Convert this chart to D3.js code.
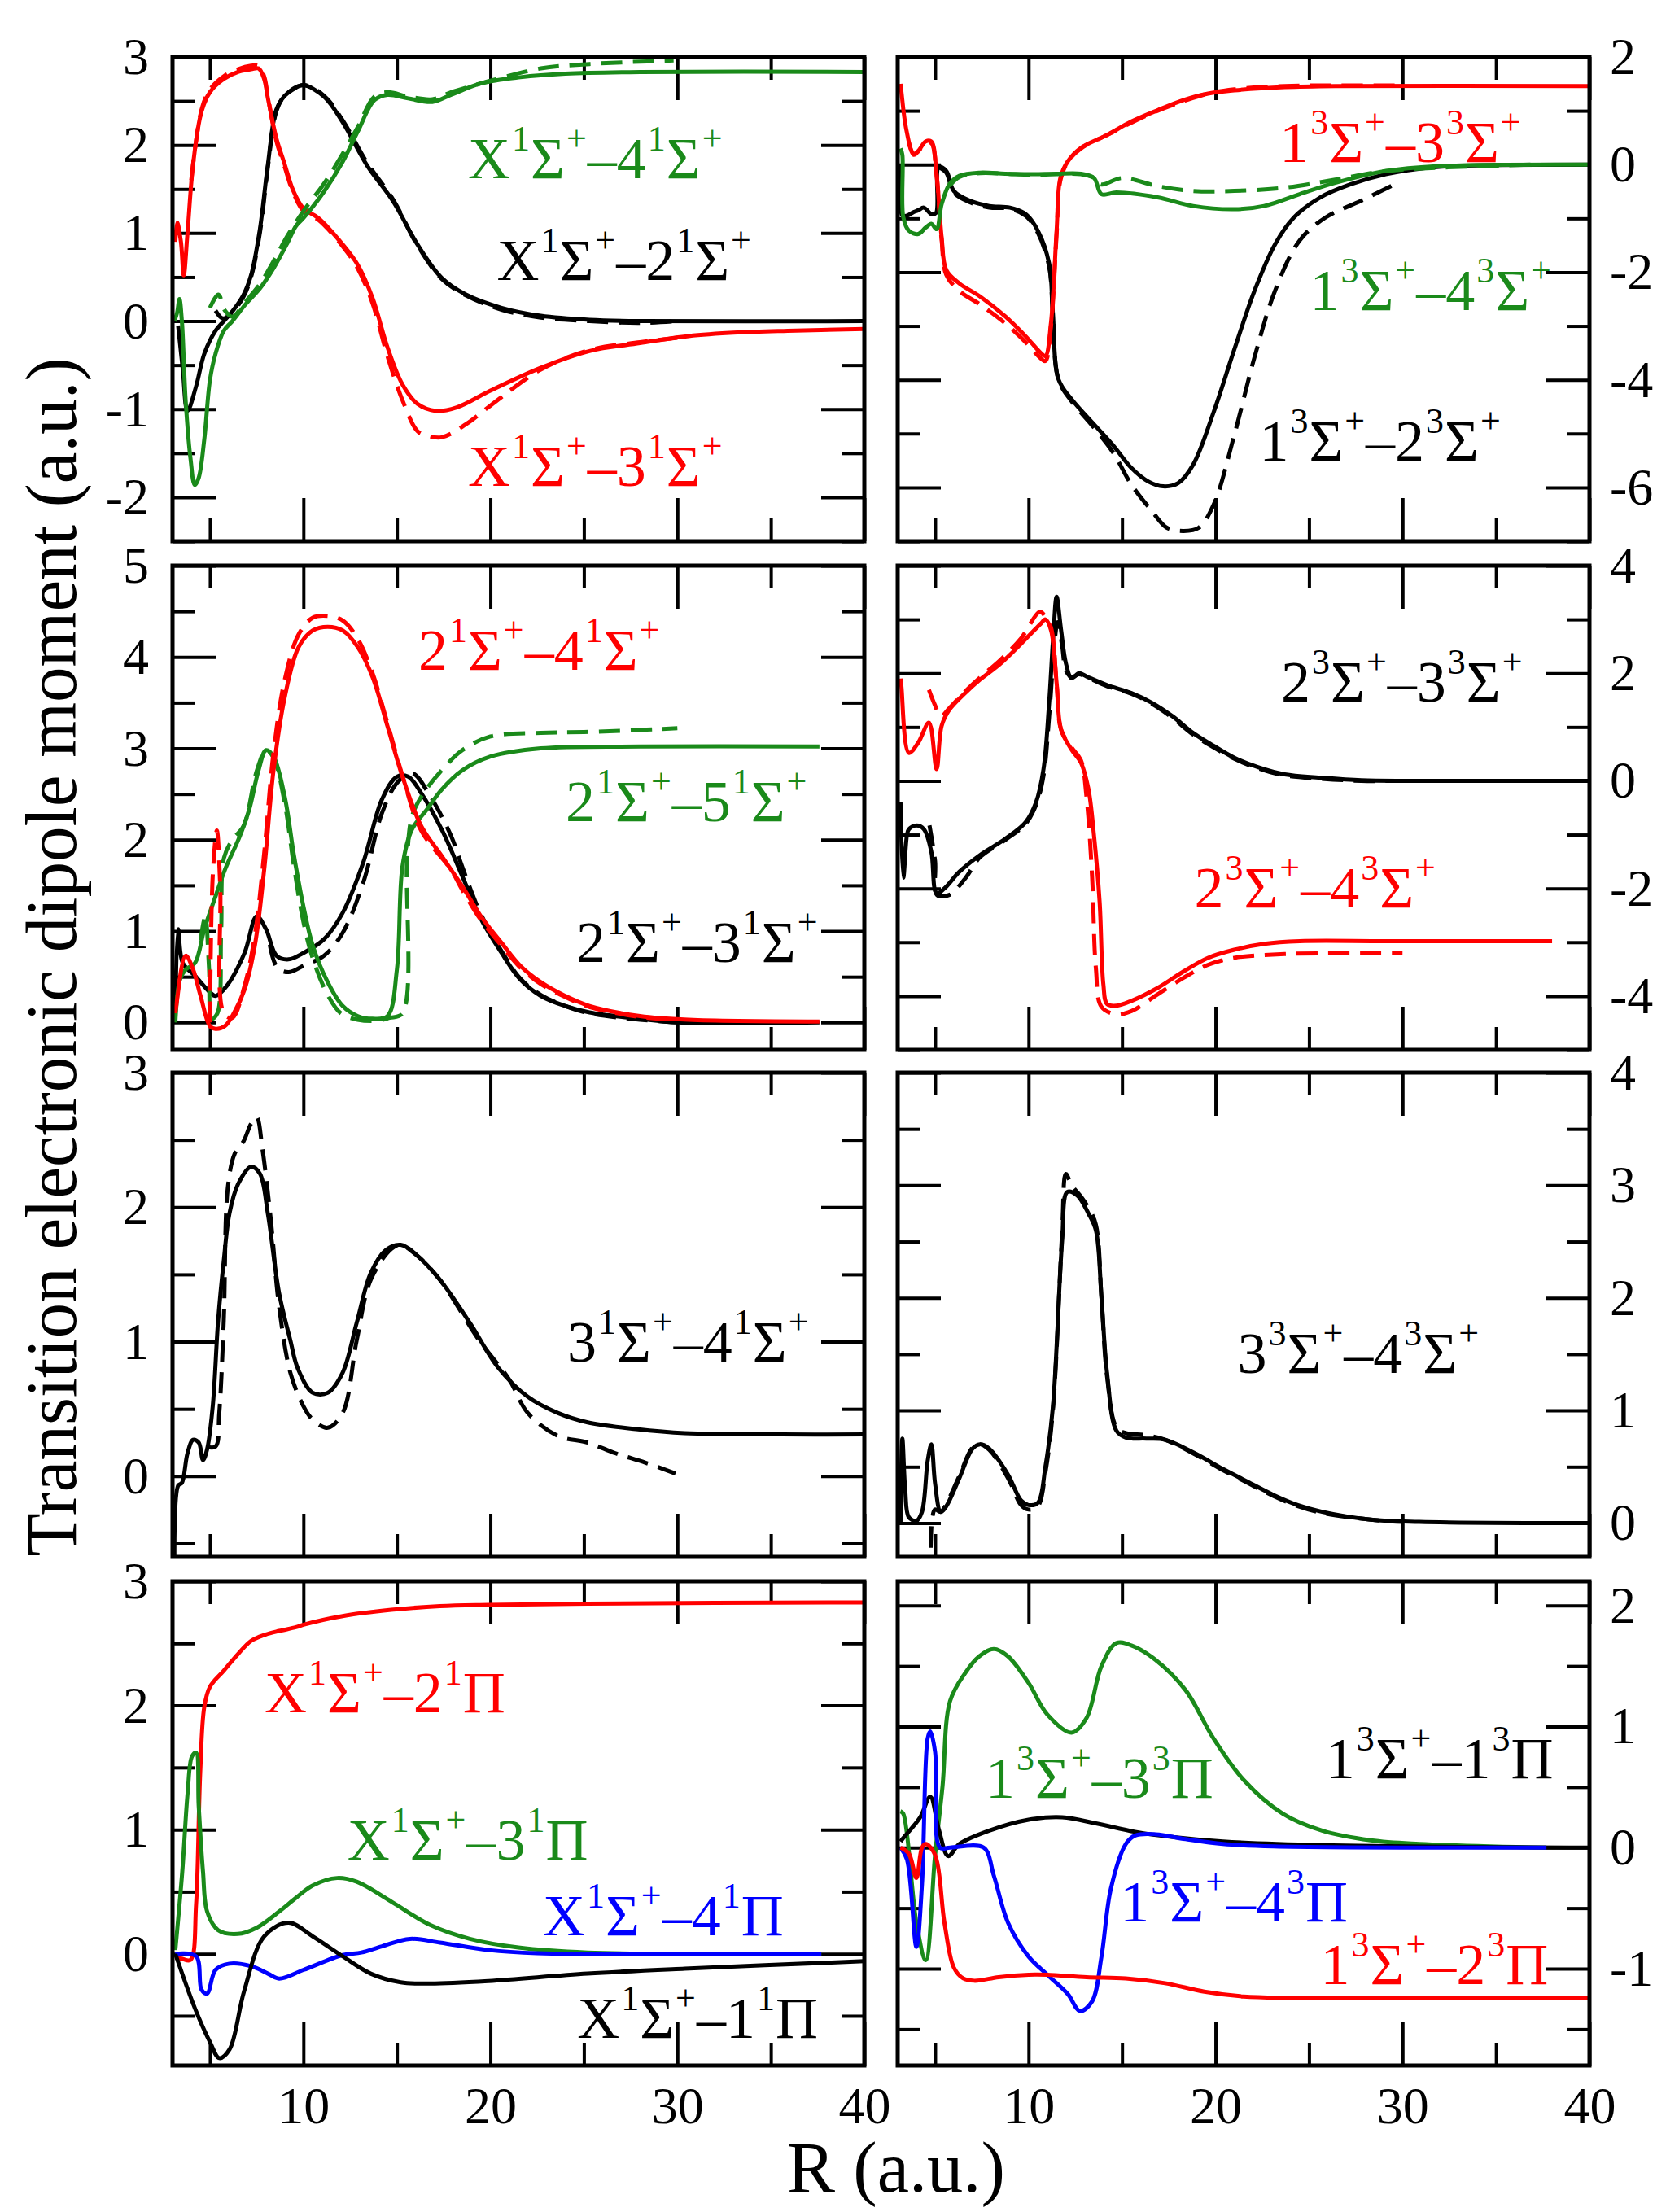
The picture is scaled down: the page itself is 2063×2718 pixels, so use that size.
<!DOCTYPE html>
<html>
<head>
<meta charset="utf-8">
<script src="https://cdn.jsdelivr.net/npm/d3@7"></script>
<style>
  body { margin: 0; background: #fff; }
</style>
</head>
<body>
<svg id="chart" width="2063" height="2718"></svg>
<script>
// ---- data: [R (a.u.), dipole moment (a.u.)] ----

// row 1, left: X-2, X-3, X-4 singlet Sigma
const p1Black = [[3.3,-0.05],[3.55,-0.55],[3.8,-1.02],[4.26,-0.74],[4.7,-0.37],[5.3,-0.11],[5.74,0],[6.2,0.11],[6.8,0.3],[7.2,0.52],[7.67,1.04],[8.1,1.78],[8.55,2.4],[9.0,2.56],[9.5,2.64],[10.0,2.68],[11.1,2.55],[12.1,2.26],[13.4,1.77],[14.8,1.36],[16.1,0.87],[17.4,0.49],[18.7,0.30],[20.6,0.15],[22.7,0.06],[25.3,0.015],[28,0],[40,0]];
const p1BlackD = [[5.3,0.12],[5.7,0.03],[6.2,0.1],[6.8,0.28],[7.2,0.5],[7.67,1.0],[8.1,1.75],[8.55,2.38],[9.0,2.56],[10.0,2.68],[11.1,2.56],[12.1,2.28],[13.4,1.8],[14.8,1.38],[16.1,0.86],[17.4,0.48],[18.7,0.29],[20.6,0.13],[22.7,0.04],[25.3,0.0],[28,-0.02],[30,0]];
const p1Red = [[3.15,0.9],[3.25,1.12],[3.45,0.9],[3.6,0.52],[3.8,1.0],[4.1,1.78],[4.55,2.38],[5.0,2.6],[5.74,2.75],[6.5,2.83],[7.2,2.86],[7.6,2.87],[7.9,2.75],[8.1,2.53],[8.55,2.08],[9.0,1.78],[9.44,1.49],[10,1.28],[10.8,1.17],[12.1,0.87],[12.9,0.64],[13.7,0.26],[14.5,-0.30],[15.3,-0.72],[16.1,-0.94],[17.1,-1.02],[18.2,-0.98],[20,-0.79],[22.7,-0.53],[25.3,-0.34],[28,-0.25],[30.6,-0.17],[33.2,-0.13],[35.9,-0.11],[40,-0.09]];
const p1RedD = [[4.0,1.6],[4.55,2.4],[5.0,2.63],[5.74,2.78],[6.5,2.86],[7.2,2.9],[7.6,2.9],[7.9,2.78],[8.1,2.55],[8.55,2.05],[9.0,1.75],[9.44,1.47],[10,1.25],[10.8,1.15],[12.1,0.85],[12.9,0.6],[13.7,0.2],[14.5,-0.4],[15.3,-0.9],[16.1,-1.25],[16.6,-1.30],[17.4,-1.32],[18.7,-1.17],[20,-0.96],[22.7,-0.55],[25.3,-0.33],[28,-0.24],[30,-0.19]];
const p1Green = [[3.1,0.0],[3.25,0.1],[3.37,0.25],[3.5,0.0],[3.7,-0.9],[3.96,-1.56],[4.19,-1.86],[4.4,-1.78],[4.7,-1.34],[5.0,-0.67],[5.3,-0.37],[5.74,-0.11],[6.2,0.0],[6.9,0.19],[7.67,0.37],[8.4,0.6],[9.15,0.89],[9.6,1.08],[10,1.17],[11.1,1.47],[12.1,1.81],[12.9,2.15],[13.8,2.51],[14.5,2.57],[15.6,2.53],[16.9,2.49],[17.9,2.57],[19.5,2.7],[21.6,2.77],[24,2.81],[28,2.83],[40,2.83]];
const p1GreenD = [[5.0,0.15],[5.45,0.3],[5.8,0.12],[6.2,0.05],[6.9,0.22],[7.67,0.42],[8.4,0.68],[9.15,0.97],[10,1.25],[11.1,1.56],[12.1,1.9],[12.9,2.2],[13.8,2.55],[14.5,2.6],[15.6,2.55],[16.9,2.52],[17.9,2.6],[19.5,2.7],[20,2.73],[22.7,2.87],[25.3,2.92],[29.8,2.96]];

// row 1, right: 1-2, 1-3, 1-4 triplet Sigma
const p2Black = [[3.15,0],[3.25,-0.95],[3.5,-0.95],[3.86,-0.88],[4.1,-0.85],[4.4,-0.8],[4.8,-0.92],[5.05,-0.9],[5.2,-0.05],[5.6,-0.12],[6.0,-0.49],[6.85,-0.67],[7.9,-0.77],[9.0,-0.8],[9.84,-0.92],[10.5,-1.23],[11.1,-1.84],[11.3,-2.76],[11.6,-3.99],[12.3,-4.36],[13.4,-4.79],[14.5,-5.21],[15.5,-5.64],[16.4,-5.89],[17.2,-5.98],[18.0,-5.92],[18.8,-5.58],[19.9,-4.6],[21,-3.44],[22.1,-2.33],[23.2,-1.47],[24.2,-0.98],[25.6,-0.61],[27.2,-0.37],[29.1,-0.18],[31.3,-0.06],[33.2,-0.02],[40,0]];
const p2BlackD = [[5.2,-0.05],[5.6,-0.15],[6.0,-0.52],[6.85,-0.7],[7.9,-0.8],[9.0,-0.82],[9.84,-0.95],[10.5,-1.27],[11.1,-1.9],[11.3,-2.8],[11.6,-4.0],[12.3,-4.4],[13.4,-4.85],[14.5,-5.34],[15.5,-5.95],[16.6,-6.44],[17.4,-6.75],[18.3,-6.81],[19.1,-6.75],[19.9,-6.32],[21,-5.03],[22.1,-3.56],[23.2,-2.33],[24.5,-1.41],[25.9,-0.98],[27.8,-0.67],[29.9,-0.31]];
const p2Red = [[3.15,1.5],[3.2,1.35],[3.45,0.67],[3.86,0.18],[4.1,0.25],[4.5,0.43],[4.8,0.43],[5.08,-0.18],[5.35,-1.35],[5.6,-1.96],[6.3,-2.21],[7.4,-2.45],[8.75,-2.82],[9.84,-3.19],[10.65,-3.5],[10.9,-3.56],[11.2,-2.94],[11.5,-1.23],[11.7,-0.25],[12.1,0.06],[12.8,0.31],[14.2,0.55],[15.5,0.8],[16.9,1.01],[18.3,1.2],[19.6,1.32],[21,1.38],[23.7,1.44],[26.4,1.46],[40,1.46]];
const p2RedD = [[3.6,0.4],[3.86,0.2],[4.1,0.25],[4.5,0.4],[4.8,0.4],[5.08,-0.2],[5.35,-1.4],[5.6,-2.05],[6.3,-2.35],[7.4,-2.6],[8.75,-2.95],[9.84,-3.3],[10.65,-3.6],[10.9,-3.65],[11.2,-3.0],[11.5,-1.3],[11.7,-0.3],[12.1,0.05],[12.8,0.3],[14.2,0.55],[15.5,0.78],[16.9,1.0],[18.3,1.18],[19.6,1.32],[21,1.4],[23.7,1.46],[26.4,1.47],[30,1.47]];
const p2Green = [[3.15,0.3],[3.25,0.18],[3.3,-0.98],[3.6,-1.23],[4.1,-1.29],[4.5,-1.17],[4.8,-1.1],[5.08,-1.2],[5.35,-0.74],[5.76,-0.37],[6.3,-0.21],[7.4,-0.15],[8.75,-0.17],[10.1,-0.18],[11.5,-0.17],[12.8,-0.17],[13.5,-0.25],[13.9,-0.55],[14.7,-0.52],[16.9,-0.61],[18.8,-0.77],[21,-0.83],[22.6,-0.77],[24.5,-0.55],[26.4,-0.34],[29.1,-0.12],[31.8,-0.03],[40,0]];
const p2GreenD = [[5.76,-0.4],[6.3,-0.23],[7.4,-0.16],[8.75,-0.17],[10.1,-0.19],[11.5,-0.18],[12.8,-0.18],[13.5,-0.25],[13.9,-0.37],[15,-0.25],[16.9,-0.4],[18.8,-0.49],[21,-0.49],[23.7,-0.43],[26.4,-0.28],[29.1,-0.12],[31.8,-0.06],[37,0]];

// row 2, left: 2-3, 2-4, 2-5 singlet Sigma
const p3Black = [[3.15,0.0],[3.3,1.02],[3.55,0.65],[4.2,0.51],[5.0,0.33],[5.3,0.29],[5.9,0.4],[6.85,0.76],[7.5,1.16],[8.0,1.02],[8.56,0.73],[9.2,0.69],[10,0.76],[11.1,0.91],[12.1,1.2],[13.2,1.75],[14.2,2.44],[15,2.69],[15.6,2.69],[16.3,2.51],[17.4,2.11],[18.5,1.6],[19.5,1.13],[20.6,0.76],[21.6,0.47],[22.7,0.29],[24,0.18],[25.3,0.11],[28,0.04],[30,0.0],[37.6,0]];
const p3BlackD = [[8.2,0.85],[8.6,0.6],[9.2,0.55],[10,0.62],[11.1,0.73],[12.1,0.98],[13.2,1.53],[14.2,2.29],[15,2.62],[15.8,2.73],[16.8,2.47],[17.9,2.04],[18.5,1.7],[19.5,1.18],[20.6,0.78],[21.6,0.48],[22.7,0.3],[24,0.18],[25.3,0.1],[28,0.03],[30,0.0]];
const p3Red = [[3.15,0.1],[3.2,0.18],[3.7,0.73],[4.1,0.58],[4.5,0.29],[5.0,-0.04],[5.3,-0.07],[5.8,-0.04],[6.3,0.11],[6.85,0.36],[7.4,0.84],[7.9,1.67],[8.4,2.76],[9.0,3.56],[9.75,4.11],[10.5,4.29],[11.3,4.33],[12.1,4.29],[12.9,4.11],[13.7,3.78],[14.5,3.24],[15.3,2.69],[16.3,2.15],[17.4,1.82],[18.5,1.49],[19.5,1.16],[20.6,0.87],[21.6,0.62],[22.7,0.44],[24,0.29],[25.3,0.18],[28,0.07],[30.6,0.03],[37.6,0.01]];
const p3RedD = [[5.0,0.0],[5.15,1.6],[5.37,2.1],[5.55,1.5],[5.74,0.1],[6.2,0.05],[6.85,0.4],[7.4,0.95],[7.9,1.85],[8.4,2.95],[9.0,3.75],[9.75,4.25],[10.5,4.43],[11.3,4.45],[12.1,4.4],[12.9,4.2],[13.7,3.82],[14.5,3.27],[15.3,2.7],[16.3,2.1],[17.9,1.67],[18.5,1.45],[19.5,1.12],[20.6,0.84],[21.6,0.6],[22.7,0.42],[24,0.28],[25.3,0.17],[28,0.06],[30,0.03]];
const p3Green = [[3.15,0.0],[3.4,0.47],[3.7,0.58],[4.2,0.65],[4.7,1.02],[5.3,1.38],[5.8,1.67],[6.6,2.04],[7.1,2.33],[7.6,2.76],[8.0,2.98],[8.4,2.91],[9.0,2.47],[9.5,1.82],[10,1.27],[10.5,0.84],[11.3,0.44],[12.1,0.18],[12.9,0.07],[13.7,0.04],[14.5,0.07],[15,0.58],[15.3,1.71],[15.8,2.11],[16.6,2.33],[17.4,2.55],[18.5,2.76],[20,2.91],[22.7,3.0],[28,3.02],[37.6,3.02]];
const p3GreenD = [[4.5,0.9],[4.75,1.16],[4.95,0.6],[5.1,0.04],[5.4,0.1],[5.6,1.0],[5.75,1.8],[6.2,2.0],[6.8,2.15],[7.5,2.75],[8.0,2.98],[8.4,2.9],[9.0,2.4],[9.5,1.7],[10,1.1],[10.5,0.7],[11.3,0.3],[12,0.1],[12.9,0.03],[14,0.02],[14.6,0.05],[15.3,0.1],[15.55,1.8],[15.8,2.25],[16.3,2.47],[17.4,2.76],[18.5,2.98],[20,3.13],[22.7,3.17],[25.3,3.18],[30,3.22]];

// row 2, right: 2-3, 2-4 triplet Sigma
const p4Black = [[3.15,-0.4],[3.3,-1.8],[3.5,-1.0],[3.6,-0.9],[4.0,-0.83],[4.4,-0.9],[4.8,-1.32],[5.08,-2.09],[5.5,-2.0],[6.3,-1.69],[7.4,-1.38],[8.75,-1.08],[9.84,-0.77],[10.4,-0.4],[10.8,0.22],[11.1,1.45],[11.33,2.74],[11.5,3.42],[11.74,2.8],[12.0,2.18],[12.3,1.91],[12.7,2.0],[13.1,1.94],[14.2,1.78],[15.5,1.63],[16.6,1.45],[17.7,1.2],[18.8,0.89],[19.9,0.65],[21,0.43],[22.3,0.25],[23.7,0.12],[25.6,0.06],[27.8,0.01],[30.5,0],[40,0]];
const p4BlackD = [[4.7,-0.83],[5.0,-1.5],[5.1,-2.12],[5.76,-2.12],[6.6,-1.82],[7.4,-1.42],[8.75,-1.1],[9.84,-0.8],[10.4,-0.45],[10.8,0.1],[11.1,1.2],[11.4,2.6],[11.55,2.95],[11.8,2.5],[12.0,2.05],[12.3,1.93],[12.7,1.98],[13.1,1.93],[14.2,1.76],[15.5,1.62],[16.6,1.43],[17.7,1.17],[18.8,0.86],[19.9,0.62],[21,0.41],[22.3,0.23],[23.7,0.1],[25.6,0.04],[27.8,0.0],[30,0]];
const p4Red = [[3.15,1.9],[3.2,1.75],[3.6,0.52],[4.1,0.71],[4.67,1.08],[5.08,0.22],[5.35,1.02],[5.76,1.32],[6.6,1.63],[7.4,1.88],[8.5,2.18],[9.6,2.55],[10.65,2.92],[10.9,3.0],[11.2,2.8],[11.5,1.82],[11.74,0.95],[12.3,0.58],[12.8,0.34],[13.2,-0.15],[13.5,-1.02],[13.8,-2.25],[14.0,-3.78],[14.2,-4.15],[14.7,-4.18],[15.5,-4.09],[16.9,-3.85],[18.3,-3.54],[19.6,-3.29],[21,-3.14],[22.6,-3.03],[24.5,-2.98],[29.1,-2.98],[38,-2.98]];
const p4RedD = [[4.67,1.69],[5.0,1.4],[5.3,1.2],[5.76,1.35],[6.6,1.66],[7.4,1.92],[8.5,2.25],[9.6,2.65],[10.6,3.14],[10.9,3.05],[11.2,2.85],[11.5,1.8],[11.74,0.95],[12.3,0.62],[12.8,0.38],[13.1,-0.3],[13.4,-1.8],[13.6,-3.48],[13.9,-4.2],[14.7,-4.34],[15.5,-4.28],[16.9,-3.97],[18.3,-3.66],[19.6,-3.42],[21,-3.29],[23.7,-3.22],[30,-3.2]];

// row 3: 3-4 singlet / triplet Sigma
const p5Black = [[3.1,-0.6],[3.3,-0.07],[3.5,-0.05],[3.8,0.17],[4.1,0.27],[4.4,0.25],[4.63,0.12],[4.85,0.2],[5.15,0.52],[5.44,1.16],[5.74,1.6],[6.04,1.95],[6.5,2.17],[7.2,2.3],[7.67,2.25],[8.1,1.95],[8.7,1.36],[9.3,1.01],[9.7,0.8],[10.5,0.62],[11.3,0.62],[12.1,0.77],[12.85,1.14],[13.6,1.51],[14.4,1.68],[15.2,1.72],[16,1.65],[17.3,1.46],[18.9,1.14],[20.4,0.81],[22,0.59],[23.6,0.47],[25.2,0.4],[27.8,0.35],[30.4,0.32],[35.6,0.31],[40,0.31]];
const p5BlackD = [[4.8,0.22],[5.3,0.22],[5.5,0.47],[5.74,1.16],[5.96,2.15],[6.33,2.4],[6.8,2.49],[7.2,2.62],[7.5,2.67],[7.8,2.44],[8.26,1.9],[8.7,1.26],[9.3,0.77],[10,0.52],[10.5,0.42],[11.3,0.36],[12.1,0.47],[12.85,1.01],[13.6,1.46],[14.7,1.69],[15.2,1.72],[16,1.65],[17.3,1.46],[19.4,1.01],[21,0.72],[22,0.47],[23.6,0.3],[25.2,0.25],[26.7,0.17],[28.3,0.1],[29.9,0.02]];
const p6Black = [[3.15,0.0],[3.25,0.75],[3.4,0.3],[3.6,0.05],[4.0,0.02],[4.3,0.1],[4.6,0.55],[4.8,0.7],[5.0,0.35],[5.3,0.1],[5.6,0.15],[6.3,0.4],[7.0,0.66],[7.4,0.7],[7.9,0.66],[8.9,0.43],[9.6,0.2],[10,0.16],[10.5,0.18],[10.9,0.5],[11.3,1.03],[11.8,2.52],[12.07,2.94],[12.6,2.91],[13.2,2.75],[13.6,2.6],[13.9,2.0],[14.2,1.33],[14.7,0.82],[15.2,0.76],[16.3,0.75],[17.3,0.74],[18.9,0.62],[20.4,0.48],[21.8,0.36],[23.1,0.25],[24.4,0.16],[25.7,0.1],[28.3,0.03],[30.9,0.01],[40,0]];
const p6BlackD = [[4.75,-0.5],[4.85,0.05],[5.0,0.12],[5.3,0.1],[5.6,0.17],[6.3,0.42],[7.0,0.67],[7.4,0.7],[7.9,0.65],[8.9,0.4],[9.6,0.16],[10,0.12],[10.5,0.15],[10.9,0.45],[11.3,1.0],[11.8,2.6],[12.0,3.1],[12.3,3.0],[12.8,2.9],[13.2,2.8],[13.6,2.65],[13.9,2.0],[14.2,1.3],[14.7,0.85],[15.2,0.8],[16.3,0.78],[17.3,0.74],[18.9,0.61],[20.4,0.47],[21.8,0.35],[23.1,0.24],[24.4,0.15],[25.7,0.09],[28.3,0.03],[30,0.01]];

// row 4, left: X - n singlet Pi
const p7Red = [[3.15,-0.03],[3.5,-0.04],[3.96,-0.05],[4.26,0.4],[4.48,1.46],[4.7,1.99],[5.0,2.15],[5.74,2.28],[6.48,2.41],[7.2,2.52],[7.96,2.57],[8.7,2.6],[9.6,2.63],[10,2.65],[12.1,2.72],[14.7,2.77],[17.3,2.8],[19.9,2.81],[25.2,2.82],[40,2.83]];
const p7Green = [[3.15,0.03],[3.52,0.66],[3.81,1.3],[4.04,1.59],[4.26,1.62],[4.4,1.19],[4.63,0.66],[4.85,0.34],[5.44,0.19],[6.48,0.16],[7.5,0.21],[8.7,0.34],[9.6,0.45],[10.5,0.55],[11.8,0.61],[12.85,0.58],[14.7,0.42],[16.8,0.23],[18.9,0.12],[21.5,0.05],[25.2,0.01],[37.7,0]];
const p7Blue = [[3.15,0],[4.26,-0.02],[4.55,-0.29],[4.85,-0.32],[5.3,-0.13],[6.04,-0.08],[7.2,-0.1],[8.1,-0.16],[8.7,-0.2],[10,-0.13],[12.1,-0.01],[13.1,0.01],[14.2,0.06],[15.7,0.12],[17.3,0.09],[19.9,0.03],[22.5,0.005],[37.7,0]];
const p7Black = [[3.15,0],[4.2,-0.44],[5.0,-0.71],[5.5,-0.84],[6.05,-0.77],[6.83,-0.3],[7.9,0.14],[9.2,0.25],[10.5,0.14],[12.1,-0.02],[13.6,-0.16],[15.2,-0.23],[16.8,-0.24],[19.9,-0.22],[25.2,-0.16],[30.4,-0.12],[40,-0.06]];

// row 4, right: 1 triplet Sigma - n triplet Pi
const p8Green = [[3.15,0.3],[3.3,0.28],[4.0,-0.62],[4.5,-0.93],[5.0,-0.06],[5.4,0.51],[5.8,1.21],[6.6,1.44],[7.36,1.58],[8.14,1.64],[8.9,1.58],[10,1.36],[11,1.1],[12.3,0.95],[13.1,1.07],[13.9,1.5],[14.7,1.69],[15.5,1.67],[16.8,1.55],[18.4,1.3],[19.9,0.9],[21.5,0.56],[23.6,0.28],[25.7,0.14],[28.3,0.06],[30.9,0.03],[37.7,0]];
const p8Black = [[3.15,0.05],[3.3,0.08],[4.2,0.25],[4.74,0.42],[5.2,0.15],[5.7,-0.07],[6.3,0.03],[7.9,0.14],[10,0.23],[11.8,0.25],[13.6,0.2],[15.7,0.13],[17.8,0.085],[20.4,0.05],[25.7,0.02],[40,0]];
const p8Blue = [[3.15,0],[3.5,-0.1],[4.0,-0.82],[4.3,-0.3],[4.6,0.9],[4.74,0.96],[5.0,0.79],[5.26,0],[5.8,0],[7.6,0],[8.14,-0.23],[8.9,-0.62],[10,-0.9],[11,-1.05],[12.1,-1.21],[12.75,-1.35],[13.4,-1.27],[13.9,-0.9],[14.4,-0.34],[15.2,0.03],[15.7,0.1],[16.8,0.11],[18.4,0.07],[20.4,0.03],[23.1,0.01],[37.7,0]];
const p8Red = [[3.15,0],[3.6,-0.05],[4.0,-0.25],[4.3,0.0],[4.5,0.03],[5.0,-0.06],[5.5,-0.62],[6.0,-0.99],[6.5,-1.08],[7.1,-1.1],[8.4,-1.07],[10,-1.05],[11,-1.05],[13.1,-1.07],[15.2,-1.08],[17.3,-1.12],[19.4,-1.19],[21.5,-1.23],[24.1,-1.24],[40,-1.24]];

// axis settings
const xDomain = [3, 40];
const xMajor = [10, 20, 30, 40];
const xMinor = [5, 15, 25, 35];
const xTitle = "R (a.u.)";
const yTitle = "Transition electronic dipole moment (a.u.)";

// ---- layout / styles ----
const FONT = '"Liberation Serif"';
const RED = "#ff0000", GREEN = "#1a8a1a", BLUE = "#0000ff", BLACK = "#000000";
const colX = [212, 1103];
const rowY = [70, 695, 1318, 1943];
const W = 850, H = 595;
const MAJ = 53, MIN = 28;

const panels = [
  { row: 0, col: 0, y: [-2.5, 3], major: 1, minor: 0.5,
    curves: [[p1Black, BLACK, 0], [p1BlackD, BLACK, 1], [p1Red, RED, 0], [p1RedD, RED, 1], [p1Green, GREEN, 0], [p1GreenD, GREEN, 1]],
    labels: [["X^1Σ^+–4^1Σ^+", GREEN, 18.76, 1.62], ["X^1Σ^+–2^1Σ^+", BLACK, 20.3, 0.47], ["X^1Σ^+–3^1Σ^+", RED, 18.76, -1.87]] },
  { row: 0, col: 1, y: [-7, 2], major: 2, minor: 1,
    curves: [[p2Black, BLACK, 0], [p2BlackD, BLACK, 1], [p2Red, RED, 0], [p2RedD, RED, 1], [p2Green, GREEN, 0], [p2GreenD, GREEN, 1]],
    labels: [["1^3Σ^+–3^3Σ^+", RED, 23.38, 0.05], ["1^3Σ^+–4^3Σ^+", GREEN, 25.0, -2.7], ["1^3Σ^+–2^3Σ^+", BLACK, 22.3, -5.51]] },
  { row: 1, col: 0, y: [-0.3, 5], major: 1, minor: 0.5,
    curves: [[p3Black, BLACK, 0], [p3BlackD, BLACK, 1], [p3Green, GREEN, 0], [p3GreenD, GREEN, 1], [p3Red, RED, 0], [p3RedD, RED, 1]],
    labels: [["2^1Σ^+–4^1Σ^+", RED, 16.1, 3.86], ["2^1Σ^+–5^1Σ^+", GREEN, 23.98, 2.2], ["2^1Σ^+–3^1Σ^+", BLACK, 24.55, 0.66]] },
  { row: 1, col: 1, y: [-5, 4], major: 2, minor: 1,
    curves: [[p4Black, BLACK, 0], [p4BlackD, BLACK, 1], [p4Red, RED, 0], [p4RedD, RED, 1]],
    labels: [["2^3Σ^+–3^3Σ^+", BLACK, 23.46, 1.47], ["2^3Σ^+–4^3Σ^+", RED, 18.82, -2.35]] },
  { row: 2, col: 0, y: [-0.6, 3], major: 1, minor: 0.5,
    curves: [[p5Black, BLACK, 0], [p5BlackD, BLACK, 1]],
    labels: [["3^1Σ^+–4^1Σ^+", BLACK, 24.07, 0.85]] },
  { row: 2, col: 1, y: [-0.3, 4], major: 1, minor: 0.5,
    curves: [[p6Black, BLACK, 0], [p6BlackD, BLACK, 1]],
    labels: [["3^3Σ^+–4^3Σ^+", BLACK, 21.13, 1.33]] },
  { row: 3, col: 0, y: [-0.9, 3], major: 1, minor: 0.5,
    curves: [[p7Red, RED, 0], [p7Green, GREEN, 0], [p7Blue, BLUE, 0], [p7Black, BLACK, 0]],
    labels: [["X^1Σ^+–2^1Π", RED, 7.88, 1.945], ["X^1Σ^+–3^1Π", GREEN, 12.3, 0.76], ["X^1Σ^+–4^1Π", BLUE, 22.76, 0.15], ["X^1Σ^+–1^1Π", BLACK, 24.6, -0.68]] },
  { row: 3, col: 1, y: [-1.8, 2.2], major: 1, minor: 0.5,
    curves: [[p8Green, GREEN, 0], [p8Black, BLACK, 0], [p8Blue, BLUE, 0], [p8Red, RED, 0]],
    labels: [["1^3Σ^+–3^3Π", GREEN, 7.66, 0.41], ["1^3Σ^+–1^3Π", BLACK, 25.84, 0.57], ["1^3Σ^+–4^3Π", BLUE, 14.85, -0.61], ["1^3Σ^+–2^3Π", RED, 25.57, -1.13]] }
];

const svg = d3.select("#chart");
const defs = svg.append("defs");

function stepValues(lo, hi, step) {
  const a = Math.ceil(lo / step - 1e-9), b = Math.floor(hi / step + 1e-9);
  return d3.range(a, b + 1).map(k => +(k * step).toFixed(6));
}

// label text: "^c" puts the next character in superscript
function addLabel(g, s, x, y, color) {
  const t = g.append("text").attr("x", x).attr("y", y).attr("fill", color)
    .style("font-family", FONT).attr("font-size", 72);
  let level = 0;
  s.match(/\^.|[^^]+/g).forEach(p => {
    const sup = p[0] === "^";
    const target = sup ? -34 : 0;
    t.append("tspan").attr("dy", target - level).attr("font-size", sup ? 44 : 72)
      .attr("dx", sup ? 2 : 1)
      .style("font-family", FONT).text(sup ? p.slice(1) : p);
    level = target;
  });
}

function styleAxis(g, w) {
  g.select(".domain").remove();
  g.selectAll("line").attr("stroke", "#000").attr("stroke-width", w);
  g.selectAll("text").style("font-family", FONT).attr("font-size", 64).attr("fill", "#000");
}

panels.forEach((p, i) => {
  const x0 = colX[p.col], y0 = rowY[p.row];
  const x = d3.scaleLinear().domain(xDomain).range([0, W]);
  const y = d3.scaleLinear().domain(p.y).range([H, 0]);
  const g = svg.append("g").attr("transform", `translate(${x0},${y0})`);

  defs.append("clipPath").attr("id", "clip" + i)
    .append("rect").attr("width", W).attr("height", H);

  const yMaj = stepValues(p.y[0], p.y[1], p.major);
  const yMin = stepValues(p.y[0], p.y[1], p.minor).filter(v => yMaj.indexOf(v) < 0);
  const fmt = d => String(d);
  const none = () => "";

  // y ticks on both sides, labels only on the outer side
  const showLeft = p.col === 0, showRight = p.col === 1;
  g.append("g").call(d3.axisLeft(y).tickValues(yMaj).tickSize(-MAJ).tickPadding(29).tickFormat(showLeft ? fmt : none)).call(a => styleAxis(a, 4));
  g.append("g").call(d3.axisLeft(y).tickValues(yMin).tickSize(-MIN).tickFormat(none)).call(a => styleAxis(a, 4));
  g.append("g").attr("transform", `translate(${W},0)`)
    .call(d3.axisRight(y).tickValues(yMaj).tickSize(-MAJ).tickPadding(25).tickFormat(showRight ? fmt : none)).call(a => styleAxis(a, 4));
  g.append("g").attr("transform", `translate(${W},0)`)
    .call(d3.axisRight(y).tickValues(yMin).tickSize(-MIN).tickFormat(none)).call(a => styleAxis(a, 4));

  // x ticks, top and bottom
  const showBottom = p.row === 3;
  g.append("g").attr("transform", `translate(0,${H})`)
    .call(d3.axisBottom(x).tickValues(xMajor).tickSize(-MAJ).tickPadding(26).tickFormat(showBottom ? fmt : none)).call(a => styleAxis(a, 4));
  g.append("g").attr("transform", `translate(0,${H})`)
    .call(d3.axisBottom(x).tickValues(xMinor).tickSize(-MIN).tickFormat(none)).call(a => styleAxis(a, 4));
  g.append("g").call(d3.axisTop(x).tickValues(xMajor).tickSize(-MAJ).tickFormat(none)).call(a => styleAxis(a, 4));
  g.append("g").call(d3.axisTop(x).tickValues(xMinor).tickSize(-MIN).tickFormat(none)).call(a => styleAxis(a, 4));

  // curves
  const line = d3.line().x(d => x(d[0])).y(d => y(d[1])).curve(d3.curveCatmullRom.alpha(0.5));
  const cg = g.append("g").attr("clip-path", `url(#clip${i})`);
  p.curves.forEach(([data, color, dashed]) => {
    cg.append("path").datum(data)
      .attr("d", line)
      .attr("fill", "none")
      .attr("stroke", color)
      .attr("stroke-width", 5)
      .attr("stroke-linejoin", "round")
      .attr("stroke-dasharray", dashed ? "26,13" : null);
  });

  // curve labels
  p.labels.forEach(([s, color, r, v]) => addLabel(g, s, x(r), y(v), color));

  // frame
  g.append("rect").attr("width", W).attr("height", H)
    .attr("fill", "none").attr("stroke", "#000").attr("stroke-width", 5);
});

// axis titles
svg.append("text")
  .attr("x", 1101).attr("y", 2693)
  .attr("text-anchor", "middle").style("font-family", FONT).attr("font-size", 88)
  .attr("textLength", 268).attr("lengthAdjust", "spacingAndGlyphs")
  .text(xTitle);

svg.append("text")
  .attr("transform", "translate(93,1176) rotate(-90)")
  .attr("text-anchor", "middle").style("font-family", FONT).attr("font-size", 88)
  .attr("textLength", 1473).attr("lengthAdjust", "spacingAndGlyphs")
  .text(yTitle);
</script>
</body>
</html>
